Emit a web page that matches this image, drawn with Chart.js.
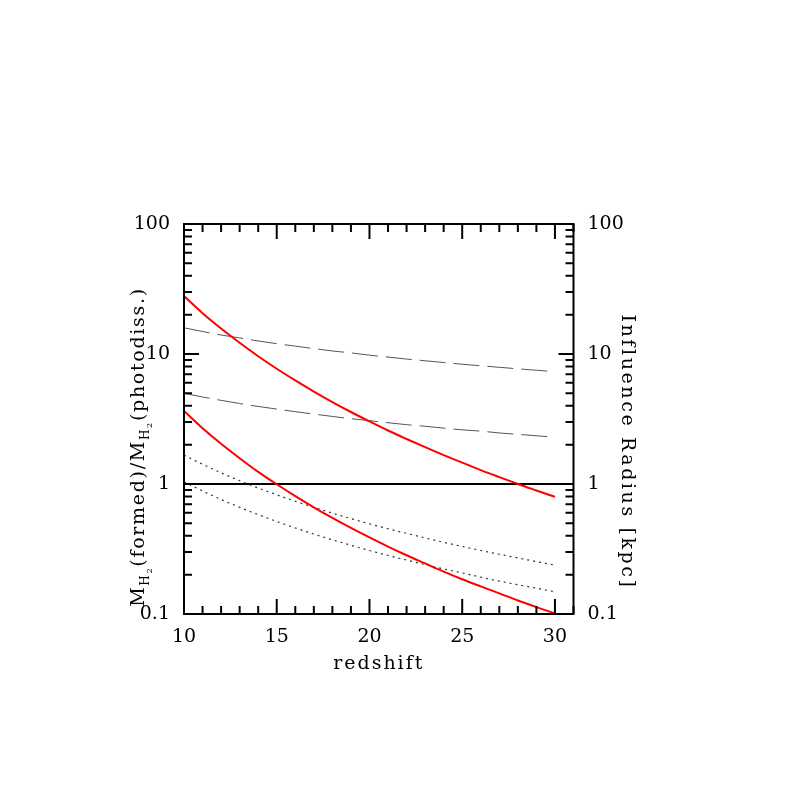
<!DOCTYPE html>
<html>
<head>
<meta charset="utf-8">
<script src="https://cdn.jsdelivr.net/npm/chart.js@4.4.1/dist/chart.umd.min.js"></script>
<style>
html,body{margin:0;padding:0;background:#fff;}
#wrap{width:797px;height:797px;position:relative;}
</style>
</head>
<body>
<div id="wrap"><canvas id="c" width="797" height="797"></canvas></div>
<script>
// ---- data ----
const redshift = [10,11,12,13,14,15,16,17,18,19,20,21,22,23,24,25,26,27,28,29,30];
const ratioHigh = [27.9,20.6,15.7,12.2,9.61,7.70,6.26,5.14,4.27,3.58,3.03,2.58,2.22,1.92,1.67,1.46,1.28,1.13,1.0,0.892,0.797];
const ratioLow  = [3.65,2.69,2.04,1.58,1.24,0.995,0.807,0.662,0.548,0.459,0.388,0.330,0.283,0.245,0.212,0.185,0.163,0.144,0.127,0.113,0.101];
const radiusDashHigh = [15.9,14.9,14.0,13.3,12.6,12.0,11.5,11.0,10.55,10.2,9.8,9.47,9.14,8.87,8.6,8.34,8.12,7.9,7.69,7.5,7.31];
const radiusDashLow  = [4.99,4.67,4.40,4.16,3.95,3.77,3.60,3.45,3.31,3.18,3.07,2.96,2.86,2.78,2.69,2.61,2.55,2.47,2.41,2.35,2.29];
const radiusDotHigh  = [1.67,1.418,1.22,1.06,0.931,0.826,0.736,0.661,0.597,0.542,0.494,0.453,0.417,0.385,0.356,0.331,0.308,0.288,0.270,0.253,0.238];
const radiusDotLow   = [1.04,0.884,0.760,0.662,0.581,0.515,0.459,0.412,0.372,0.338,0.308,0.282,0.260,0.240,0.222,0.207,0.192,0.179,0.168,0.158,0.148];
const unityX = [10,31];
const unityY = [1,1];
const xTickValues = [10,15,20,25,30];
const xTickLabels = ['10','15','20','25','30'];
const yTickValues = [0.1,1,10,100];
const yTickLabels = ['0.1','1','10','100'];
const xRange = [10,31];
const yRange = [0.1,100];

const FONT = 'DejaVu Serif';
const pts = (xs, ys) => xs.map((x,i)=>({x:x, y:ys[i]}));

function fixTicks(vals){ return function(scale){ scale.ticks = vals.map(v=>({value:v, major:true})); }; }
function labelCb(vals, labels){ return function(v){ const i = vals.indexOf(v); return i>=0 ? labels[i] : ''; }; }

const framePlugin = {
  id:'frame',
  afterDatasetsDraw(chart){
    const ctx = chart.ctx, a = chart.chartArea;
    const xs = chart.scales.x, ys = chart.scales.y;
    ctx.save();
    ctx.strokeStyle = '#000';
    ctx.lineWidth = 2;
    ctx.lineCap = 'butt';
    ctx.strokeRect(a.left, a.top, a.right-a.left, a.bottom-a.top);
    ctx.beginPath();
    for (let v = xRange[0]; v <= xRange[1]; v++) {
      const p = xs.getPixelForValue(v);
      const L = (v % 5 === 0) ? 15 : 8;
      ctx.moveTo(p, a.bottom); ctx.lineTo(p, a.bottom - L);
      ctx.moveTo(p, a.top); ctx.lineTo(p, a.top + L);
    }
    for (let d = yRange[0]; d < yRange[1]*0.99; d *= 10) {
      for (let m = 1; m <= 9; m++) {
        const p = ys.getPixelForValue(d*m);
        const L = (m === 1) ? 15 : 8;
        ctx.moveTo(a.left, p); ctx.lineTo(a.left + L, p);
        ctx.moveTo(a.right, p); ctx.lineTo(a.right - L, p);
      }
    }
    ctx.stroke();

    ctx.fillStyle = '#000';
    ctx.textBaseline = 'alphabetic';
    const big = '19px "' + FONT + '"';
    const sub = '12px "' + FONT + '"';
    const sub2 = '8px "' + FONT + '"';
    try { ctx.letterSpacing = '2px'; } catch(e) {}
    ctx.font = big;
    ctx.textAlign = 'center';
    ctx.fillText('redshift', (a.left + a.right)/2, 669);
    ctx.save();
    ctx.translate(622, 452);
    ctx.rotate(Math.PI/2);
    try { ctx.letterSpacing = '2.6px'; } catch(e) {}
    ctx.textAlign = 'center';
    ctx.fillText('Influence Radius [kpc]', 0, 0);
    ctx.restore();
    try { ctx.letterSpacing = '1.7px'; } catch(e) {}
    const parts = [
      {t:'M', f:big, dy:0},
      {t:'H', f:sub, dy:5},
      {t:'2', f:sub2, dy:8},
      {t:'(formed)/M', f:big, dy:0},
      {t:'H', f:sub, dy:5},
      {t:'2', f:sub2, dy:8},
      {t:'(photodiss.)', f:big, dy:0}
    ];
    let total = 0;
    parts.forEach(p=>{ ctx.font = p.f; p.w = ctx.measureText(p.t).width; total += p.w; });
    ctx.save();
    ctx.translate(144, 447);
    ctx.rotate(-Math.PI/2);
    ctx.textAlign = 'left';
    let x0 = -total/2;
    parts.forEach(p=>{ ctx.font = p.f; ctx.fillText(p.t, x0, p.dy); x0 += p.w; });
    ctx.restore();
    ctx.restore();
  }
};

const tickFont = {family: FONT, size: 19};

new Chart(document.getElementById('c'), {
  type:'line',
  data:{
    datasets:[
      {data: pts(redshift, ratioHigh), borderColor:'#ff0000', borderWidth:2, yAxisID:'y'},
      {data: pts(redshift, ratioLow), borderColor:'#ff0000', borderWidth:2, yAxisID:'y'},
      {data: pts(redshift, radiusDashHigh), borderColor:'#555', borderWidth:1, borderDash:[26,8], yAxisID:'y2'},
      {data: pts(redshift, radiusDashLow), borderColor:'#555', borderWidth:1, borderDash:[26,8], yAxisID:'y2'},
      {data: pts(redshift, radiusDotHigh), borderColor:'#333', borderWidth:1.2, borderDash:[2,4], yAxisID:'y2'},
      {data: pts(redshift, radiusDotLow), borderColor:'#333', borderWidth:1.2, borderDash:[2,4], yAxisID:'y2'},
      {data: pts(unityX, unityY), borderColor:'#000', borderWidth:2, yAxisID:'y'}
    ]
  },
  options:{
    responsive:false,
    animation:false,
    devicePixelRatio:1,
    layout:{padding:{top:224, left:0, right:0, bottom:0}},
    elements:{point:{radius:0}, line:{cubicInterpolationMode:'monotone', fill:false}},
    plugins:{legend:{display:false}, tooltip:{enabled:false}},
    scales:{
      x:{
        type:'linear', min:xRange[0], max:xRange[1],
        grid:{display:false, drawTicks:false}, border:{display:false},
        afterBuildTicks: fixTicks(xTickValues),
        ticks:{callback: labelCb(xTickValues, xTickLabels), font:tickFont, color:'#000', padding:12, maxRotation:0, autoSkip:false},
        afterFit(s){ s.height = 183; }
      },
      y:{
        type:'logarithmic', position:'left', min:yRange[0], max:yRange[1],
        grid:{display:false, drawTicks:false}, border:{display:false},
        afterBuildTicks: fixTicks(yTickValues),
        ticks:{callback: labelCb(yTickValues, yTickLabels), font:tickFont, color:'#000', padding:14, autoSkip:false},
        afterFit(s){ s.width = 184; }
      },
      y2:{
        type:'logarithmic', position:'right', min:yRange[0], max:yRange[1],
        grid:{display:false, drawTicks:false}, border:{display:false},
        afterBuildTicks: fixTicks(yTickValues),
        ticks:{callback: labelCb(yTickValues, yTickLabels), font:tickFont, color:'#000', padding:14, autoSkip:false},
        afterFit(s){ s.width = 223.5; }
      }
    }
  },
  plugins:[framePlugin]
});
</script>
</body>
</html>
